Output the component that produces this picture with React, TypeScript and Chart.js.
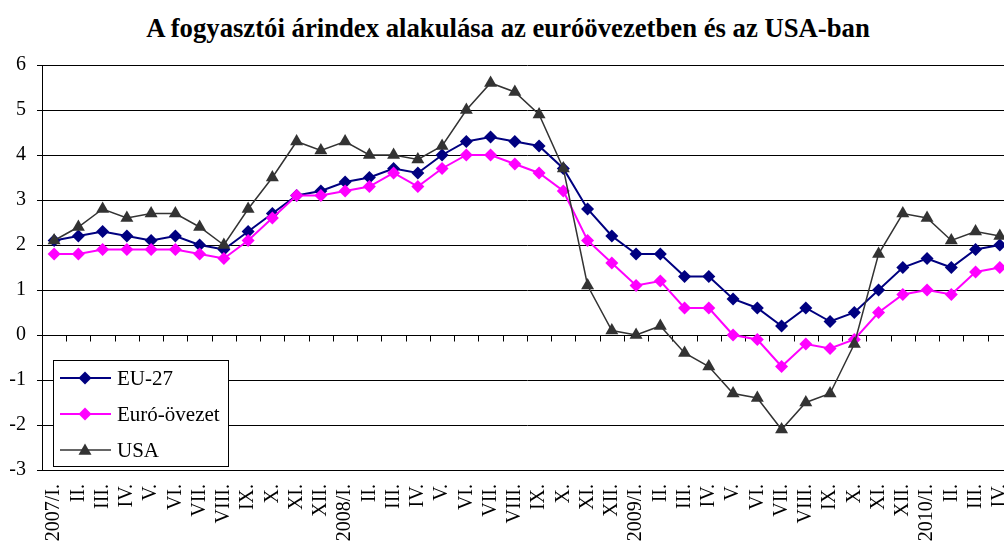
import React, { useEffect, useRef } from "react";
import { Chart, registerables } from "chart.js";

Chart.register(...registerables);

const titleText = "A fogyasztói árindex alakulása az euróövezetben és az USA-ban";

const months = [
  "2007/I.", "II.", "III.", "IV.", "V.", "VI.", "VII.", "VIII.", "IX.", "X.", "XI.", "XII.",
  "2008/I.", "II.", "III.", "IV.", "V.", "VI.", "VII.", "VIII.", "IX.", "X.", "XI.", "XII.",
  "2009/I.", "II.", "III.", "IV.", "V.", "VI.", "VII.", "VIII.", "IX.", "X.", "XI.", "XII.",
  "2010/I.", "II.", "III.", "IV.",
];

const seriesNames = ["EU-27", "Euró-övezet", "USA"];

const eu27 = [
  2.1, 2.2, 2.3, 2.2, 2.1, 2.2, 2.0, 1.9, 2.3, 2.7, 3.1, 3.2,
  3.4, 3.5, 3.7, 3.6, 4.0, 4.3, 4.4, 4.3, 4.2, 3.7, 2.8, 2.2,
  1.8, 1.8, 1.3, 1.3, 0.8, 0.6, 0.2, 0.6, 0.3, 0.5, 1.0, 1.5,
  1.7, 1.5, 1.9, 2.0,
];

const euro = [
  1.8, 1.8, 1.9, 1.9, 1.9, 1.9, 1.8, 1.7, 2.1, 2.6, 3.1, 3.1,
  3.2, 3.3, 3.6, 3.3, 3.7, 4.0, 4.0, 3.8, 3.6, 3.2, 2.1, 1.6,
  1.1, 1.2, 0.6, 0.6, 0.0, -0.1, -0.7, -0.2, -0.3, -0.1, 0.5, 0.9,
  1.0, 0.9, 1.4, 1.5,
];

const usa = [
  2.1, 2.4, 2.8, 2.6, 2.7, 2.7, 2.4, 2.0, 2.8, 3.5, 4.3, 4.1,
  4.3, 4.0, 4.0, 3.9, 4.2, 5.0, 5.6, 5.4, 4.9, 3.7, 1.1, 0.1,
  0.0, 0.2, -0.4, -0.7, -1.3, -1.4, -2.1, -1.5, -1.3, -0.2, 1.8, 2.7,
  2.6, 2.1, 2.3, 2.2,
];

const yMin = -3;
const yMax = 6;

const colors = ["#000080", "#FF00FF", "#333333"];
const FONT = "'Liberation Serif', 'Times New Roman', serif";

function drawMarker(ctx: CanvasRenderingContext2D, kind: string, x: number, y: number, r: number, color: string) {
  ctx.save();
  ctx.fillStyle = color;
  ctx.beginPath();
  if (kind === "diamond") {
    ctx.moveTo(x, y - r);
    ctx.lineTo(x + r, y);
    ctx.lineTo(x, y + r);
    ctx.lineTo(x - r, y);
  } else {
    ctx.moveTo(x, y - r);
    ctx.lineTo(x + r * Math.sin((2 * Math.PI) / 3), y - r * Math.cos((2 * Math.PI) / 3));
    ctx.lineTo(x + r * Math.sin((4 * Math.PI) / 3), y - r * Math.cos((4 * Math.PI) / 3));
  }
  ctx.closePath();
  ctx.fill();
  ctx.restore();
}

const zeroTicksPlugin = {
  id: "zeroTicks",
  beforeDatasetsDraw(chart: any) {
    const ctx = chart.ctx;
    const xs = chart.scales.x;
    const ys = chart.scales.y;
    const y0 = Math.round(ys.getPixelForValue(0)) + 0.5;
    const n = months.length;
    const w = xs.width / n;
    ctx.save();
    ctx.strokeStyle = "#000";
    ctx.lineWidth = 1;
    ctx.beginPath();
    for (let i = 0; i <= n; i++) {
      const x = Math.round(xs.left + i * w) + 0.5;
      ctx.moveTo(x, y0);
      ctx.lineTo(x, y0 + 6);
    }
    ctx.stroke();
    ctx.restore();
  },
};

const legendBoxPlugin = {
  id: "legendBox",
  afterDraw(chart: any) {
    const ctx = chart.ctx;
    const bx = 53.5, by = 360.5, bw = 175, bh = 106;
    ctx.save();
    ctx.fillStyle = "#fff";
    ctx.fillRect(bx, by, bw, bh);
    ctx.strokeStyle = "#000";
    ctx.lineWidth = 1;
    ctx.strokeRect(bx, by, bw, bh);
    const ys = [378, 414, 450];
    const kinds = ["diamond", "diamond", "triangle"];
    const radii = [6.5, 6.5, 7.5];
    const widths = [2, 2, 1.5];
    for (let i = 0; i < 3; i++) {
      ctx.strokeStyle = colors[i];
      ctx.lineWidth = widths[i];
      ctx.beginPath();
      ctx.moveTo(60, ys[i]);
      ctx.lineTo(111, ys[i]);
      ctx.stroke();
      drawMarker(ctx, kinds[i], 85, kinds[i] === "triangle" ? ys[i] + 1 : ys[i], radii[i], colors[i]);
      ctx.fillStyle = "#000";
      ctx.font = `21px ${FONT}`;
      ctx.textBaseline = "middle";
      ctx.textAlign = "left";
      ctx.fillText(seriesNames[i], 117, ys[i] + 1);
    }
    ctx.restore();
  },
};

export default function App() {
  const canvasRef = useRef<HTMLCanvasElement | null>(null);

  useEffect(() => {
    const canvas = canvasRef.current;
    if (!canvas) return;
    const chart = new Chart(canvas, {
      type: "line",
      data: {
        labels: months,
        datasets: [
          {
            label: seriesNames[0],
            data: eu27,
            borderColor: colors[0],
            backgroundColor: colors[0],
            borderWidth: 2,
            pointStyle: "rectRot",
            pointRadius: 6.5,
            pointBorderWidth: 0,
            tension: 0,
            order: 2,
          },
          {
            label: seriesNames[1],
            data: euro,
            borderColor: colors[1],
            backgroundColor: colors[1],
            borderWidth: 2,
            pointStyle: "rectRot",
            pointRadius: 6.5,
            pointBorderWidth: 0,
            tension: 0,
            order: 1,
          },
          {
            label: seriesNames[2],
            data: usa,
            borderColor: colors[2],
            backgroundColor: colors[2],
            borderWidth: 1.5,
            pointStyle: "triangle",
            pointRadius: 7.5,
            pointBorderWidth: 0,
            tension: 0,
            order: 0,
          },
        ],
      },
      options: {
        responsive: false,
        animation: false,
        devicePixelRatio: 1,
        layout: { padding: { top: 65, right: 16, left: 0, bottom: 0 } },
        plugins: {
          legend: { display: false },
          title: { display: false },
          tooltip: { enabled: false },
        },
        scales: {
          x: {
            type: "category",
            offset: true,
            grid: { display: false },
            border: { display: true, color: "#000", width: 1 },
            ticks: {
              autoSkip: false,
              maxRotation: 90,
              minRotation: 90,
              color: "#000",
              font: { family: FONT, size: 20 },
              padding: 6,
            },
            afterFit(s: any) {
              s.height = 75;
            },
          },
          y: {
            min: yMin,
            max: yMax,
            ticks: {
              stepSize: 1,
              color: "#000",
              font: { family: FONT, size: 20 },
              padding: 11,
            },
            grid: { color: "#000", lineWidth: 1, tickLength: 5 },
            border: { display: true, color: "#000", width: 1 },
            afterFit(s: any) {
              s.width = 42;
            },
          },
        },
      },
      plugins: [zeroTicksPlugin, legendBoxPlugin],
    });
    return () => chart.destroy();
  }, []);

  return (
    <div
      style={{
        position: "fixed",
        left: 0,
        top: 0,
        width: 1004,
        height: 545,
        overflow: "hidden",
        background: "#fff",
      }}
    >
      <div
        style={{
          position: "absolute",
          left: 0,
          top: 13,
          width: 1016,
          textAlign: "center",
          fontFamily: FONT,
          fontWeight: "bold",
          fontSize: 26.7,
          lineHeight: "30px",
          color: "#000",
          whiteSpace: "nowrap",
        }}
      >
        {titleText}
      </div>
      <canvas
        ref={canvasRef}
        width={1030}
        height={545}
        style={{ position: "absolute", left: 0, top: 0, display: "block" }}
      />
    </div>
  );
}
